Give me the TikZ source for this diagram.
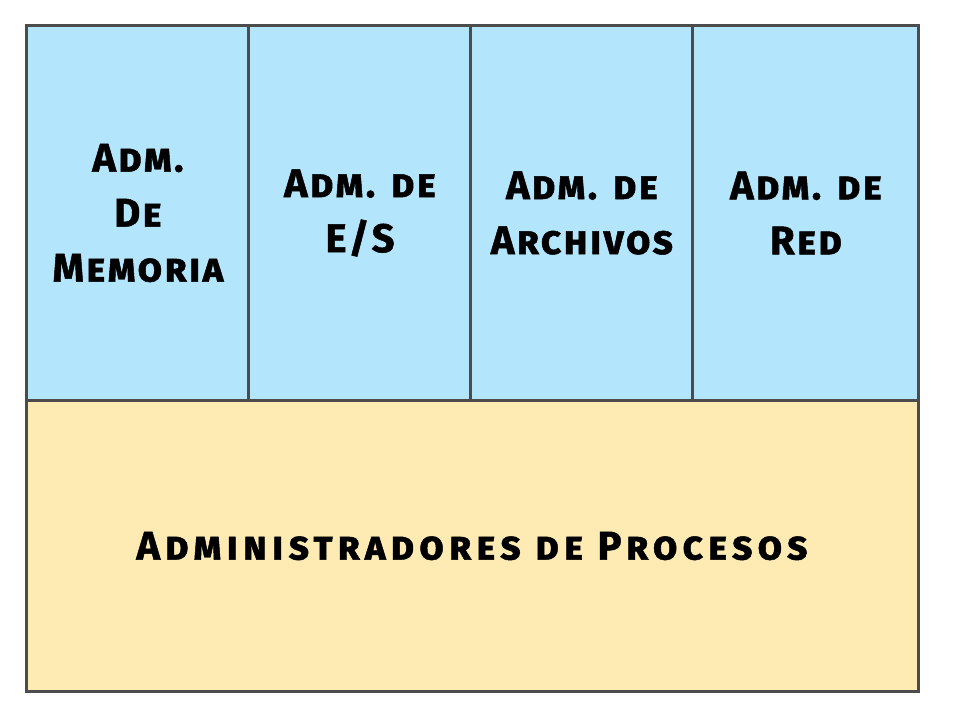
\documentclass[tikz,border=0pt]{standalone}
\usepackage{fontspec}
\setmainfont{Fira Sans}[Letters=SmallCaps]
\newfontfamily\topfont{Fira Sans}[Letters=SmallCaps,LetterSpace=5.5,FakeBold=1.2]
\newfontfamily\botfont{Fira Sans}[Letters=SmallCaps,LetterSpace=12.5,FakeBold=1.2]
\begin{document}
\begin{tikzpicture}[x=1pt,y=-1pt,
  cell/.style={draw=black!70,line width=3pt},
  lbl/.style={font=\topfont\fontsize{40}{55}\selectfont\bfseries,align=center,text=black},
  blbl/.style={font=\botfont\fontsize{40}{55}\selectfont\bfseries,align=center,text=black}]
\useasboundingbox (0,0) rectangle (960,720);
\definecolor{cblue}{HTML}{B3E5FC}
\definecolor{cyel}{HTML}{FDEBB3}
\fill[cblue] (26,25) rectangle (918,400);
\fill[cyel] (26,400) rectangle (918,691);
\draw[cell] (26,25) rectangle (918,691);
\draw[cell] (26,400) -- (918,400);
\draw[cell] (248,25) -- (248,400);
\draw[cell] (470,25) -- (470,400);
\draw[cell] (692,25) -- (692,400);
\node[lbl] (m) at (138,213) {Adm.\\De\\Memoria};
\node[lbl] (e) at (360,213) {Adm. de\\E/S};
\node[lbl] (a) at (582,213) {Adm. de\\Archivos};
\node[lbl] (r) at (806,213) {Adm. de\\Red};
\node[blbl] (p) at (472,546) {Administradores de Procesos};
\end{tikzpicture}
\end{document}
